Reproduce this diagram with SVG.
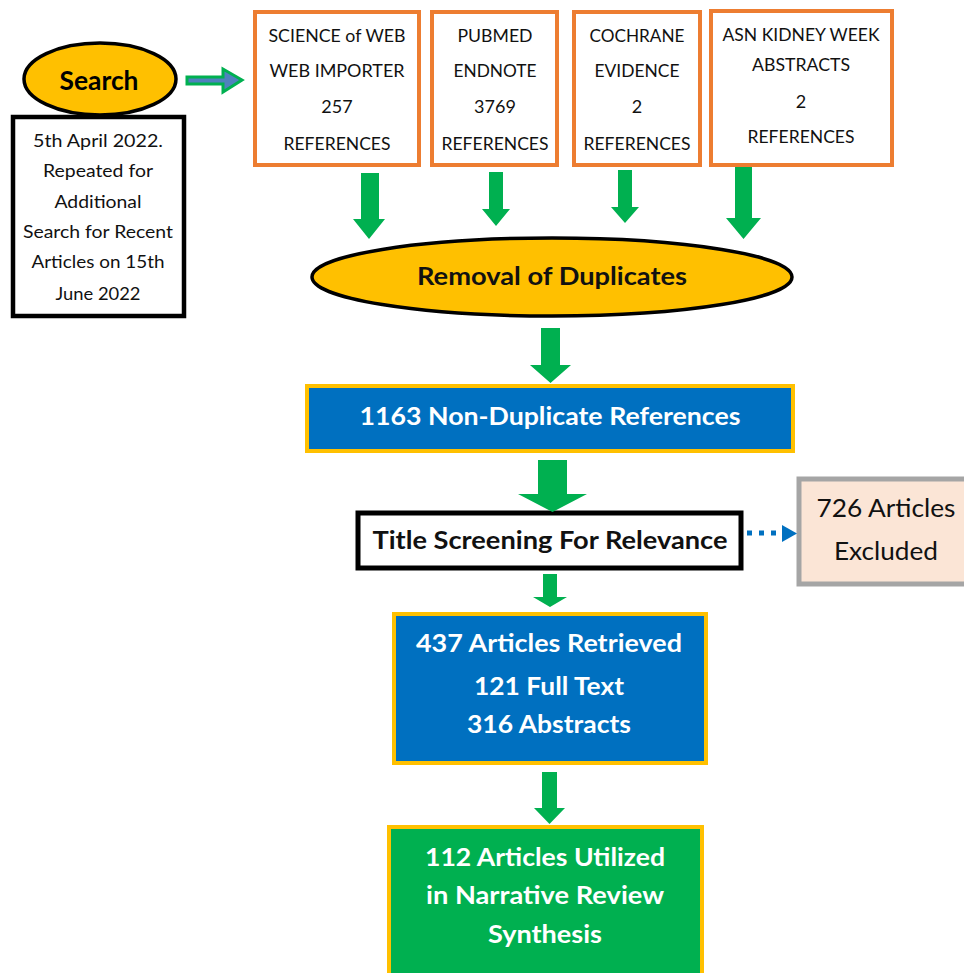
<svg xmlns="http://www.w3.org/2000/svg" width="964" height="973" viewBox="0 0 964 973">
<style>
text{font-family:Lato,"Open Sans","Liberation Sans",sans-serif;text-anchor:middle;}
.src{fill:#fff;stroke:#ED7D31;stroke-width:4;}
.st{font-size:18px;fill:#111;}
.b{font-weight:bold;}
.gold{stroke:#FFC000;stroke-width:4;}
.w{fill:#fff;font-weight:bold;font-size:25px;}
.arr{fill:#00B050;}
</style>
<g id="search">
<ellipse cx="100" cy="79" rx="76" ry="36" fill="#FFC000" stroke="#000" stroke-width="3.5"/>
<text x="99" y="90" class="b" font-size="26" textLength="79" lengthAdjust="spacingAndGlyphs">Search</text>
</g>
<g id="date">
<rect x="13" y="117" width="171" height="199" fill="#fff" stroke="#000" stroke-width="4.5"/>
<g class="st" font-size="18">
<text x="98" y="147" textLength="130" lengthAdjust="spacingAndGlyphs">5th April 2022.</text>
<text x="98" y="177" textLength="110" lengthAdjust="spacingAndGlyphs">Repeated for</text>
<text x="98" y="208" textLength="87" lengthAdjust="spacingAndGlyphs">Additional</text>
<text x="98" y="238" textLength="150" lengthAdjust="spacingAndGlyphs">Search for Recent</text>
<text x="98" y="268" textLength="133" lengthAdjust="spacingAndGlyphs">Articles on 15th</text>
<text x="98" y="300" textLength="85" lengthAdjust="spacingAndGlyphs">June 2022</text>
</g>
</g>
<g id="wos">
<rect class="src" x="255" y="12" width="164" height="153"/>
<text class="st" x="337" y="42" textLength="137" lengthAdjust="spacingAndGlyphs">SCIENCE of WEB</text>
<text class="st" x="337" y="77" textLength="135" lengthAdjust="spacingAndGlyphs">WEB IMPORTER</text>
<text class="st" x="337" y="113">257</text>
<text class="st" x="337" y="150" textLength="107" lengthAdjust="spacingAndGlyphs">REFERENCES</text>
</g>
<g id="pubmed">
<rect class="src" x="432" y="12" width="125" height="153"/>
<text class="st" x="495" y="42" textLength="75" lengthAdjust="spacingAndGlyphs">PUBMED</text>
<text class="st" x="495" y="77" textLength="83" lengthAdjust="spacingAndGlyphs">ENDNOTE</text>
<text class="st" x="495" y="113">3769</text>
<text class="st" x="495" y="150" textLength="107" lengthAdjust="spacingAndGlyphs">REFERENCES</text>
</g>
<g id="cochrane">
<rect class="src" x="574" y="12" width="126" height="153"/>
<text class="st" x="637" y="42" textLength="95" lengthAdjust="spacingAndGlyphs">COCHRANE</text>
<text class="st" x="637" y="77" textLength="85" lengthAdjust="spacingAndGlyphs">EVIDENCE</text>
<text class="st" x="637" y="113">2</text>
<text class="st" x="637" y="150" textLength="107" lengthAdjust="spacingAndGlyphs">REFERENCES</text>
</g>
<g id="asn">
<rect class="src" x="711" y="11" width="181" height="154"/>
<text class="st" x="801" y="41" textLength="157" lengthAdjust="spacingAndGlyphs">ASN KIDNEY WEEK</text>
<text class="st" x="801" y="71" textLength="98" lengthAdjust="spacingAndGlyphs">ABSTRACTS</text>
<text class="st" x="801" y="108">2</text>
<text class="st" x="801" y="143" textLength="107" lengthAdjust="spacingAndGlyphs">REFERENCES</text>
</g>
<g id="removal">
<ellipse cx="552" cy="277" rx="240" ry="39" fill="#FFC000" stroke="#000" stroke-width="3.5"/>
<text x="552" y="285" class="b" font-size="25" fill="#111" textLength="270" lengthAdjust="spacingAndGlyphs">Removal of Duplicates</text>
</g>
<g id="nondup">
<rect class="gold" x="307" y="386" width="486" height="65" fill="#0070C0"/>
<text class="w" x="550" y="425" textLength="381" lengthAdjust="spacingAndGlyphs">1163 Non-Duplicate References</text>
</g>
<g id="title">
<rect x="358" y="513" width="383" height="55" fill="#fff" stroke="#000" stroke-width="5"/>
<text x="550" y="549" class="b" font-size="25" fill="#111" textLength="355" lengthAdjust="spacingAndGlyphs">Title Screening For Relevance</text>
</g>
<g id="excluded">
<rect x="799" y="479" width="175" height="105" fill="#FBE5D6" stroke="#A5A5A5" stroke-width="5"/>
<text x="886" y="517" font-size="25" fill="#111" textLength="139" lengthAdjust="spacingAndGlyphs">726 Articles</text>
<text x="886" y="560" font-size="25" fill="#111" textLength="104" lengthAdjust="spacingAndGlyphs">Excluded</text>
</g>
<g id="retrieved">
<rect class="gold" x="394" y="614" width="312" height="149" fill="#0070C0"/>
<text class="w" x="549" y="652" textLength="266" lengthAdjust="spacingAndGlyphs">437 Articles Retrieved</text>
<text class="w" x="549" y="695" textLength="150" lengthAdjust="spacingAndGlyphs">121 Full Text</text>
<text class="w" x="549" y="733" textLength="164" lengthAdjust="spacingAndGlyphs">316 Abstracts</text>
</g>
<g id="utilized">
<rect class="gold" x="389" y="827" width="313" height="160" fill="#00B050"/>
<text class="w" x="545" y="866" textLength="240" lengthAdjust="spacingAndGlyphs">112 Articles Utilized</text>
<text class="w" x="545" y="904" textLength="238" lengthAdjust="spacingAndGlyphs">in Narrative Review</text>
<text class="w" x="545" y="943" textLength="114" lengthAdjust="spacingAndGlyphs">Synthesis</text>
</g>
<g id="connectors">
<polygon points="187,77 223,77 223,69 242,80 223,92 223,84 187,84" fill="#4F81BD" stroke="#00B050" stroke-width="3" stroke-linejoin="miter"/>
<polygon class="arr" points="361,173 379,173 379,219 385,219 369,239 353,219 361,219"/>
<polygon class="arr" points="489,172 503,172 503,209 510,209 496,226 482,209 489,209"/>
<polygon class="arr" points="618,170 632,170 632,207 639,207 625,223 611,207 618,207"/>
<polygon class="arr" points="735,167 752,167 752,218 761,218 743.5,239 726,218 735,218"/>
<polygon class="arr" points="541,328 560,328 560,365 571,365 550.5,383 530,365 541,365"/>
<polygon class="arr" points="538,460 567,460 567,494 587,494 552.5,512 518,494 538,494"/>
<polygon class="arr" points="543,574 557,574 557,597 567,597 550,607 533,597 543,597"/>
<polygon class="arr" points="542,772 557,772 557,808 565,808 549.5,824 534,808 542,808"/>
<line x1="747" y1="533" x2="783" y2="533" stroke="#0070C0" stroke-width="5" stroke-dasharray="5,7"/>
<polygon points="782,525 797,533.5 782,542" fill="#0070C0"/>
</g>
</svg>
